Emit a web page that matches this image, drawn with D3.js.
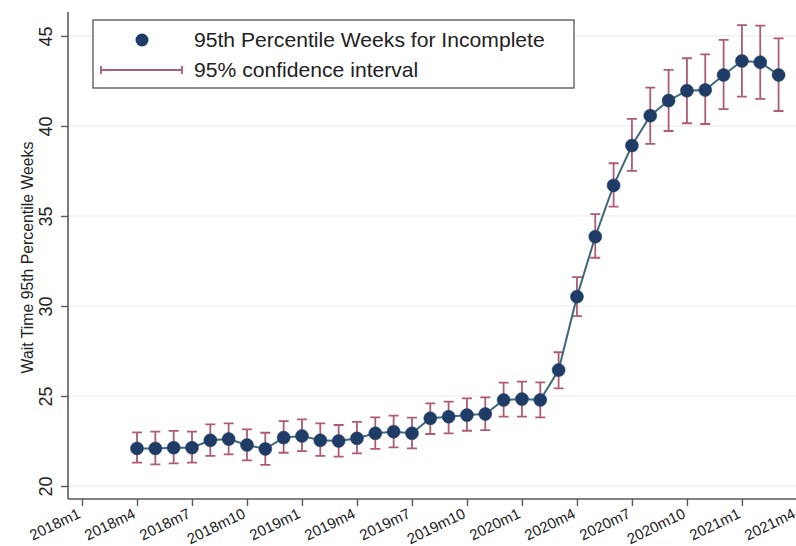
<!DOCTYPE html>
<html>
<head>
<meta charset="utf-8">
<script src="https://cdn.jsdelivr.net/npm/d3@7"></script>
<style>
  html, body { margin: 0; padding: 0; background: #fff; }
  svg { display: block; font-family: "Liberation Sans", Arial, Helvetica, sans-serif; }
</style>
</head>
<body>
<svg id="chart" width="796" height="546"></svg>
<script>
// ---- data (month index: 0 = 2018m1) ----
const months = [3,4,5,6,7,8,9,10,11,12,13,14,15,16,17,18,19,20,21,22,23,24,25,26,27,28,29,30,31,32,33,34,35,36,37,38];
const values = [22.09,22.09,22.13,22.13,22.54,22.61,22.28,22.06,22.69,22.78,22.54,22.50,22.65,22.93,23.02,22.93,23.76,23.85,23.94,24.00,24.78,24.83,24.78,26.44,30.52,33.85,36.70,38.91,40.57,41.41,41.96,42.00,42.83,43.61,43.54,42.83];
const lower  = [21.30,21.20,21.26,21.30,21.67,21.76,21.43,21.17,21.85,21.94,21.67,21.63,21.81,22.06,22.15,22.09,22.89,22.93,23.07,23.11,23.85,23.85,23.81,25.43,29.44,32.68,35.52,37.50,39.00,39.72,40.15,40.11,40.93,41.63,41.50,40.83];
const upper  = [22.98,23.02,23.06,23.02,23.43,23.48,23.15,22.96,23.61,23.70,23.48,23.39,23.56,23.81,23.91,23.80,24.59,24.69,24.87,24.93,25.74,25.80,25.76,27.43,31.60,35.10,37.93,40.39,42.13,43.11,43.76,43.98,44.78,45.60,45.57,44.87];
const xTickMonths = [0,3,6,9,12,15,18,21,24,27,30,33,36,39];
const xTickLabels = ["2018m1","2018m4","2018m7","2018m10","2019m1","2019m4","2019m7","2019m10","2020m1","2020m4","2020m7","2020m10","2021m1","2021m4"];
const yTicks = [20,25,30,35,40,45];
const yTitle = "Wait Time 95th Percentile Weeks";
const legendLabels = ["95th Percentile Weeks for Incomplete","95% confidence interval"];

// ---- layout ----
const W = 796, H = 546;
const plot = {left: 68, right: 796, top: 12, bottom: 499};
const colMarker = "#1e3c66", colCI = "#ad5c74", colLine = "#3e6a7a", colAxis = "#5a5a5a", colGrid = "#ececec";

const svg = d3.select("#chart");
svg.append("rect").attr("width", W).attr("height", H).attr("fill", "#fff");

const x = d3.scaleLinear().domain([-0.764, 38.95]).range([plot.left, plot.right]);
const y = d3.scaleLinear().domain([19.28, 46.33]).range([plot.bottom, plot.top]);

// gridlines
svg.append("g").selectAll("line").data(yTicks).join("line")
  .attr("x1", plot.left).attr("x2", plot.right)
  .attr("y1", d => y(d)).attr("y2", d => y(d))
  .attr("stroke", colGrid).attr("stroke-width", 1.2);

// y axis
const yAxis = svg.append("g").attr("transform", `translate(${plot.left},0)`)
  .call(d3.axisLeft(y).tickValues(yTicks).tickSize(7).tickFormat(d3.format("d")));
yAxis.select(".domain").attr("stroke", colAxis).attr("stroke-width", 1.6)
  .attr("d", `M0,${plot.top}V${plot.bottom}`);
yAxis.selectAll(".tick line").attr("stroke", colAxis).attr("stroke-width", 1.4);
yAxis.selectAll(".tick text")
  .attr("x", null).attr("dy", null)
  .attr("font-size", 18).attr("fill", "#222")
  .attr("text-anchor", "middle")
  .attr("transform", "translate(-16,0) rotate(-90)");

// x axis
const xAxis = svg.append("g").attr("transform", `translate(0,${plot.bottom})`)
  .call(d3.axisBottom(x).tickValues(xTickMonths).tickSize(7).tickFormat((d, i) => xTickLabels[i]));
xAxis.select(".domain").attr("stroke", colAxis).attr("stroke-width", 1.6)
  .attr("d", `M${plot.left},0H${plot.right}`);
xAxis.selectAll(".tick line").attr("stroke", colAxis).attr("stroke-width", 1.4);
xAxis.selectAll(".tick text")
  .attr("y", null).attr("dy", null)
  .attr("font-size", 15).attr("fill", "#222")
  .attr("text-anchor", "end")
  .attr("transform", "translate(-1,18) rotate(-26)");

// y title
svg.append("text")
  .attr("transform", `translate(33,${(plot.top + plot.bottom) / 2 + 2}) rotate(-90)`)
  .attr("text-anchor", "middle").attr("font-size", 15.8).attr("fill", "#222")
  .text(yTitle);

// CI bars
const pts = months.map((m, i) => ({m, v: values[i], lo: lower[i], hi: upper[i]}));
const ci = svg.append("g").attr("stroke", colCI).attr("stroke-width", 1.8).attr("fill", "none");
ci.selectAll("path").data(pts).join("path")
  .attr("d", d => {
    const cx = x(d.m), y1 = y(d.lo), y2 = y(d.hi), c = 5;
    return `M${cx},${y1}V${y2}M${cx - c},${y1}H${cx + c}M${cx - c},${y2}H${cx + c}`;
  });

// connecting line
svg.append("path").datum(pts)
  .attr("fill", "none").attr("stroke", colLine).attr("stroke-width", 2)
  .attr("d", d3.line().x(d => x(d.m)).y(d => y(d.v)));

// markers
svg.append("g").selectAll("circle").data(pts).join("circle")
  .attr("cx", d => x(d.m)).attr("cy", d => y(d.v)).attr("r", 6.5)
  .attr("fill", colMarker).attr("stroke", "#23466f").attr("stroke-width", 0.6);

// legend
const lg = svg.append("g");
lg.append("rect").attr("x", 93).attr("y", 20).attr("width", 481).attr("height", 68)
  .attr("fill", "#fff").attr("stroke", "#555").attr("stroke-width", 1.3);
lg.append("circle").attr("cx", 142).attr("cy", 40).attr("r", 6.5).attr("fill", colMarker);
lg.append("path").attr("fill", "none").attr("stroke", colCI).attr("stroke-width", 1.8)
  .attr("d", "M101,70H182M101,66V74M182,66V74");
const t1 = lg.append("text").attr("x", 194).attr("y", 46.5).attr("font-size", 18).attr("fill", "#222").text(legendLabels[0]);
const t2 = lg.append("text").attr("x", 194).attr("y", 76.5).attr("font-size", 18).attr("fill", "#222").text(legendLabels[1]);
// fit legend font to the reference text width
const w1 = t1.node().getComputedTextLength();
const fs = 18 * 351 / w1;
t1.attr("font-size", fs); t2.attr("font-size", fs);
</script>
</body>
</html>
